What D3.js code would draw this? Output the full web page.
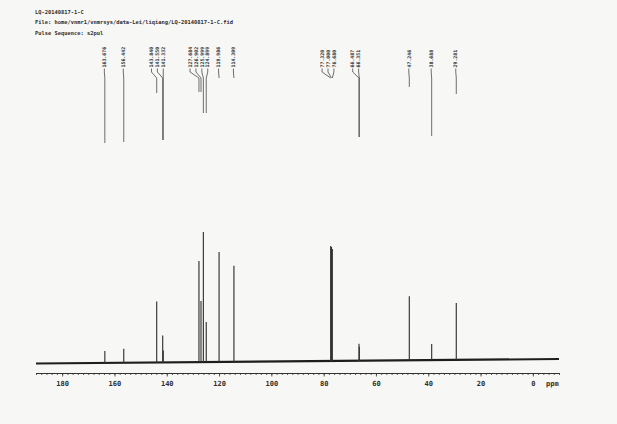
<!DOCTYPE html>
<html><head><meta charset="utf-8">
<script src="https://cdn.jsdelivr.net/npm/d3@7"></script>
<style>
html,body{margin:0;padding:0;background:#f7f7f6;}
svg{display:block;}
text{font-family:"DejaVu Sans Mono","Liberation Mono",monospace;fill:#2e2e2e;}
</style></head>
<body>
<svg id="c" width="617" height="424"></svg>
<script>
// ---- data ----
const headerLines = ["LQ-20140817-1-C",
  "File: home/vnmr1/vnmrsys/data-Lei/liqiang/LQ-20140817-1-C.fid",
  "Pulse Sequence: s2pul"];
const peakPpm = [163.676,156.442,143.840,141.550,141.332,127.684,126.902,125.999,124.899,119.986,114.309,77.320,77.000,76.680,66.487,66.351,47.246,38.688,29.281];
const peakLabel = ["163.676","156.442","143.840","141.550","141.332","127.684","126.902","125.999","124.899","119.986","114.309","77.320","77.000","76.680","66.487","66.351","47.246","38.688","29.281"];
const peakHeight = [12,14,61,27,12,101,61,130,40,110,96,115,114,112,17,14,64,16,57];
const leadEnd = [143,142,93,140,140,92,92,113,113,78,77,76,76,76,137,137,87,136,94];
const baselinePpm = [190,-10];
const baselineLevel = [0,4.5];
const majorTicks = [180,160,140,120,100,80,60,40,20,0];
const axisUnit = "ppm";

// ---- drawing ----
const svg = d3.select("#c");
const x = d3.scaleLinear().domain([190,-10]).range([36,559]);
const y = d3.scaleLinear().domain([0,140]).range([363.5,223.5]);
const drift = d3.scaleLinear().domain(baselinePpm).range(baselineLevel);

// header
svg.selectAll("text.hdr").data(headerLines).join("text").attr("class","hdr")
  .attr("x",35).attr("y",(d,i)=>[13.5,24,35][i])
  .style("font-size","5.4px").style("font-weight","bold").text(d=>d);

// baseline
svg.append("path").datum(baselinePpm)
  .attr("d",d3.line().x(p=>x(p)).y(p=>y(drift(p))))
  .attr("stroke","#1e1e1e").attr("stroke-width",2.1).attr("fill","none");

// peaks
svg.selectAll("line.pk").data(peakPpm).join("line").attr("class","pk")
  .attr("x1",d=>x(d)).attr("x2",d=>x(d))
  .attr("y1",d=>y(drift(d))).attr("y2",(d,i)=>y(drift(d)+peakHeight[i]))
  .attr("stroke","#333").attr("stroke-width",1.15);

// label layout (cluster spreading)
const sp = 5.9;
let clusters = peakPpm.map((p,i)=>({idx:[i], want:[x(p)-3.5]}));
clusters.sort((a,b)=>a.want[0]-b.want[0]);
function place(c){const m=d3.mean(c.want);const n=c.want.length;c.pos=c.want.map((w,k)=>m+(k-(n-1)/2)*sp);}
clusters.forEach(place);
let merged=true;
while(merged){
  merged=false;
  for(let i=0;i<clusters.length-1;i++){
    const a=clusters[i],b=clusters[i+1];
    if(b.pos[0]-a.pos[a.pos.length-1] < sp-0.01){
      const c={idx:a.idx.concat(b.idx),want:a.want.concat(b.want)};
      place(c); clusters.splice(i,2,c); merged=true; break;
    }
  }
}
const labelX = [];
clusters.forEach(c=>{
  if(c.idx.length===1){ labelX[c.idx[0]] = x(peakPpm[c.idx[0]]) - 0.5; }
  else c.idx.forEach((id,k)=>labelX[id]=c.pos[k]);
});

const textBottom = 67.5;
svg.selectAll("text.pl").data(peakLabel).join("text").attr("class","pl")
  .attr("transform",(d,i)=>`translate(${labelX[i]+1.7},${textBottom}) rotate(-90)`)
  .style("font-size","4.9px").style("font-weight","bold").text(d=>d);

svg.selectAll("path.lead").data(peakPpm).join("path").attr("class","lead")
  .attr("d",(d,i)=>{
    const tx=labelX[i], px=x(d);
    return `M${tx},${textBottom+1}L${tx},72L${px},78L${px},${Math.max(78,leadEnd[i])}`;})
  .attr("stroke","#4a4a4a").attr("stroke-width",0.8).attr("fill","none");

// axis
const gAx = svg.append("g").attr("transform","translate(0,373)");
const minor = d3.axisBottom(x).tickValues(d3.range(190,-10.01,-2)).tickSize(2).tickSizeOuter(0).tickFormat("");
gAx.append("g").call(minor);
const major = d3.axisBottom(x).tickValues(majorTicks).tickSize(3.5).tickSizeOuter(0).tickPadding(5);
const gm = gAx.append("g").call(major);
gAx.selectAll("path.domain").attr("stroke","#333").attr("stroke-width",1);
gAx.selectAll(".tick line").attr("stroke","#333").attr("stroke-width",0.8);
gm.selectAll("text").style("font-size","7px").style("font-weight","bold").attr("fill","#2e2e2e").attr("font-family",null);
svg.append("text").attr("x",546).attr("y",385.5).style("font-size","7px").style("font-weight","bold").text(axisUnit);
</script>
</body></html>
